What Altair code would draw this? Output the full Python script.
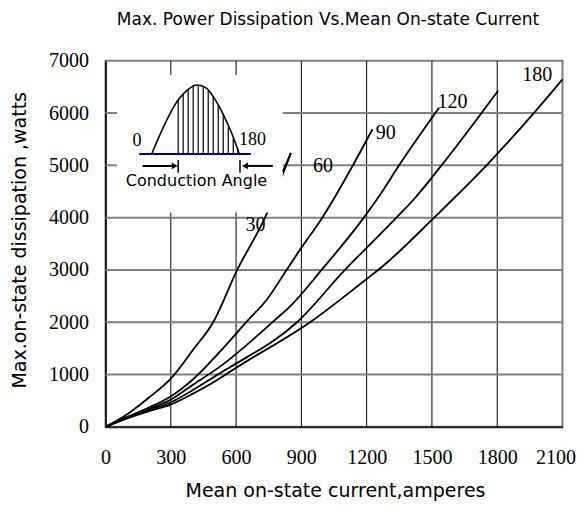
import altair as alt
import pandas as pd

# ---------------- text ----------------
title_text = "Max. Power Dissipation Vs.Mean On-state Current"
x_title = "Mean on-state current,amperes"
y_title = "Max.on-state dissipation ,watts"

# ---------------- axes / grid ----------------
x_ticks = [0, 300, 600, 900, 1200, 1500, 1800, 2100]
y_ticks = [0, 1000, 2000, 3000, 4000, 5000, 6000, 7000]
grid_x = [300, 600, 900, 1200, 1500, 1800]
grid_y = [1000, 2000, 3000, 4000, 5000, 6000]

# ---------------- curves (conduction angle) ----------------
c30_a = [0, 100, 200, 300, 400, 495, 605, 733, 852]
c30_w = [0, 240, 560, 920, 1460, 2000, 3000, 4000, 5237]

c60_a = [0, 100, 200, 296, 400, 526, 656, 740, 832, 893, 996, 1046, 1227]
c60_w = [0, 190, 370, 570, 900, 1438, 2044, 2426, 3000, 3382, 4000, 4338, 5690]

c90_a = [0, 100, 200, 296, 400, 526, 779, 847, 993, 1187, 1261, 1349, 1533]
c90_w = [0, 180, 340, 510, 800, 1151, 2044, 2298, 3000, 4000, 4434, 5000, 6103]

c120_a = [0, 100, 200, 296, 400, 526, 572, 880, 1100, 1337, 1414, 1544, 1804]
c120_w = [0, 170, 320, 460, 700, 1025, 1140, 2000, 3000, 4000, 4338, 5000, 6428]

c180_a = [0, 100, 200, 296, 400, 526, 572, 955, 1200, 1253, 1307, 1510, 1751, 1968, 2100]
c180_w = [0, 160, 300, 420, 630, 929, 1055, 2044, 2828, 3000, 3191, 4000, 5000, 6000, 6646]

curve_names = ["30", "60", "90", "120", "180"]
curve_a = [c30_a, c60_a, c90_a, c120_a, c180_a]
curve_w = [c30_w, c60_w, c90_w, c120_w, c180_w]

# curve labels
lab_text = ["30", "60", "90", "120", "180"]
lab_a = [689, 1000, 1288, 1594, 1984]
lab_w = [3860, 4992, 5614, 6218, 6728]

# ---------------- inset (conduction angle sketch) ----------------
box_a, box_a2, box_w, box_w2 = [53], [815], [4100], [6730]
wave_a = [212, 334, 380, 419, 465, 495, 526, 549, 580, 615]
wave_w = [5218, 6250, 6455, 6537, 6474, 6314, 6098, 5901, 5614, 5218]
hatch_a = [334, 357, 380, 403, 426, 449, 472, 495, 518, 541, 564, 587, 608]
hatch_top = [6250, 6354, 6455, 6522, 6534, 6493, 6432, 6314, 6155, 5945, 5725, 5514, 5317]
base_level = 5218
base_a = [155, 668]
arrow_level = 4990
arrow_left = [171, 322]
arrow_right = [637, 769]
head_a = [318, 641]
head_shape = ["triangle-right", "triangle-left"]
bar_a = [334, 618]
bar_lo, bar_hi = 4857, 5101
inset_txt = ["0", "180"]
inset_txt_a = [145, 676]
inset_txt_w = [5466, 5486]
cond_text = ["Conduction Angle"]
cond_a, cond_w = [418], [4692]
stray_a = [815, 852]  # visible tip of the 30 curve right of the inset
stray_w = [4880, 5237]

# ---------------- build ----------------
xs = alt.Scale(domain=[0, 2100], nice=False, zero=False)
ys = alt.Scale(domain=[0, 7000], nice=False, zero=False)

x_axis = alt.Axis(values=x_ticks, title=x_title, grid=False, ticks=False, tickSize=0,
                  labelPadding=21, format="d", labelFlush=False,
                  labelOffset={"condition": {"test": "datum.value === 2100", "value": -7}, "value": 0},
                  domainColor="#222222", domainWidth=2,
                  titleX=229.5, titleY=64, titleAlign="center", titleBaseline="middle")
y_axis = alt.Axis(values=y_ticks, title=y_title, grid=False, ticks=False, tickSize=0,
                  labelPadding=17, format="d", labelFlush=False,
                  domainColor="#222222", domainWidth=2,
                  titleAngle=270, titleX=-86.5, titleY=179,
                  titleAlign="center", titleBaseline="middle")


def X(field="a"):
    return alt.X(f"{field}:Q", scale=xs, axis=x_axis)


def Y(field="w"):
    return alt.Y(f"{field}:Q", scale=ys, axis=y_axis)


gx = alt.Chart(pd.DataFrame({"a": grid_x})).mark_rule(color="black", strokeWidth=1).encode(x=X())
gy = alt.Chart(pd.DataFrame({"w": grid_y})).mark_rule(color="#808080", strokeWidth=2).encode(y=Y())

rows = []
for name, aa, ww in zip(curve_names, curve_a, curve_w):
    for i, (a, w) in enumerate(zip(aa, ww)):
        rows.append({"angle": name, "i": i, "a": a, "w": w})
curves = alt.Chart(pd.DataFrame(rows)).mark_line(
    color="black", strokeWidth=1.8, interpolate="monotone").encode(
    x=X(), y=Y(), detail="angle:N", order="i:Q")

box = alt.Chart(pd.DataFrame({"a": box_a, "a2": box_a2, "w": box_w, "w2": box_w2})).mark_rect(
    color="white").encode(x=X(), x2="a2:Q", y=Y(), y2="w2:Q")

stray = alt.Chart(pd.DataFrame({"a": stray_a, "w": stray_w, "i": [0, 1]})).mark_line(
    color="black", strokeWidth=1.8).encode(x=X(), y=Y(), order="i:Q")

wave = alt.Chart(pd.DataFrame({"a": wave_a, "w": wave_w, "i": list(range(len(wave_a)))})).mark_line(
    color="black", strokeWidth=1.6, interpolate="monotone").encode(x=X(), y=Y(), order="i:Q")

hatch = alt.Chart(pd.DataFrame({"a": hatch_a, "w": [base_level] * len(hatch_a), "w2": hatch_top})).mark_rule(
    color="black", strokeWidth=1.2).encode(x=X(), y=Y(), y2="w2:Q")

baseline = alt.Chart(pd.DataFrame({"a": [base_a[0]], "a2": [base_a[1]], "w": [base_level]})).mark_rule(
    color="#000080", strokeWidth=2).encode(x=X(), x2="a2:Q", y=Y())

arrows = alt.Chart(pd.DataFrame({"a": [arrow_left[0], arrow_right[0]],
                                 "a2": [arrow_left[1], arrow_right[1]],
                                 "w": [arrow_level, arrow_level]})).mark_rule(
    color="black", strokeWidth=2).encode(x=X(), x2="a2:Q", y=Y())

heads = alt.Chart(pd.DataFrame({"a": head_a, "w": [arrow_level] * 2, "s": head_shape})).mark_point(
    filled=True, color="black", size=45, opacity=1).encode(
    x=X(), y=Y(), shape=alt.Shape("s:N", scale=None, legend=None))

bars = alt.Chart(pd.DataFrame({"a": bar_a, "w": [bar_lo] * 2, "w2": [bar_hi] * 2})).mark_rule(
    color="black", strokeWidth=1.5).encode(x=X(), y=Y(), y2="w2:Q")

inset_labels = alt.Chart(pd.DataFrame({"a": inset_txt_a, "w": inset_txt_w, "t": inset_txt})).mark_text(
    font="Liberation Serif", fontSize=18, color="black", baseline="middle", align="center").encode(
    x=X(), y=Y(), text="t:N")

cond = alt.Chart(pd.DataFrame({"a": cond_a, "w": cond_w, "t": cond_text})).mark_text(
    font="DejaVu Sans", fontSize=16, color="black", baseline="middle", align="center").encode(
    x=X(), y=Y(), text="t:N")

labels = alt.Chart(pd.DataFrame({"a": lab_a, "w": lab_w, "t": lab_text})).mark_text(
    font="Liberation Serif", fontSize=20, color="black", baseline="middle", align="center").encode(
    x=X(), y=Y(), text="t:N")

chart = alt.layer(
    gx, gy, curves, box, stray, wave, hatch, baseline, arrows, heads, bars,
    inset_labels, cond, labels
).properties(
    width=457, height=366,
    padding={"left": 97.5, "top": 52.8, "right": 14.5, "bottom": 75.2},
    autosize=alt.AutoSizeParams(type="none"),
    title=alt.TitleParams(title_text, font="DejaVu Sans", fontSize=17, fontWeight="normal",
                          color="black", anchor="middle", offset=22, dx=-6),
).configure_view(
    stroke="#808080", strokeWidth=2
).configure_axis(
    labelFont="Liberation Serif", labelFontSize=20, labelColor="black",
    titleFont="DejaVu Sans", titleFontSize=19, titleFontWeight="normal", titleColor="black"
)

chart.save("out.html", embed_options={"renderer": "svg", "actions": False})
